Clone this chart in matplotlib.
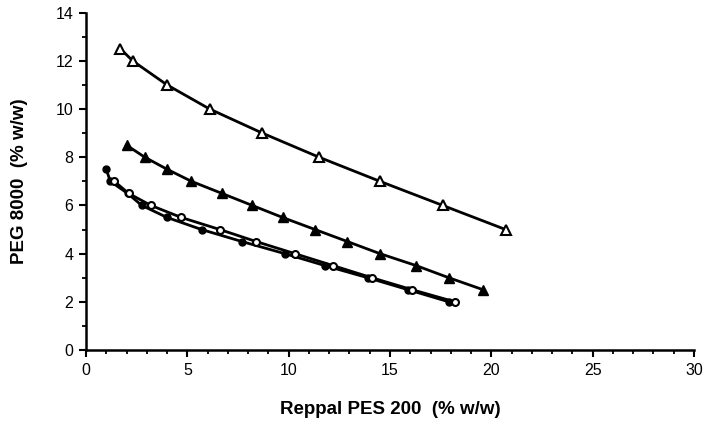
import matplotlib
matplotlib.use("Agg")
import matplotlib.pyplot as plt
from matplotlib.ticker import MultipleLocator

plt.rcParams['font.family'] = ['Liberation Sans', 'DejaVu Sans']

# open triangles (top curve)
x_open_tri = [1.7, 2.3, 4.0, 6.1, 8.7, 11.5, 14.5, 17.6, 20.7]
y_open_tri = [12.5, 12.0, 11.0, 10.0, 9.0, 8.0, 7.0, 6.0, 5.0]

# filled triangles (middle curve)
x_fill_tri = [2.0, 2.9, 4.0, 5.2, 6.7, 8.2, 9.7, 11.3, 12.9, 14.5, 16.3, 17.9, 19.6]
y_fill_tri = [8.5, 8.0, 7.5, 7.0, 6.5, 6.0, 5.5, 5.0, 4.5, 4.0, 3.5, 3.0, 2.5]

# filled circles (lower-left curve)
x_fill_circ = [1.0, 1.2, 2.05, 2.75, 4.0, 5.7, 7.7, 9.8, 11.8, 13.9, 15.9, 17.9]
y_fill_circ = [7.5, 7.0, 6.5, 6.0, 5.5, 5.0, 4.5, 4.0, 3.5, 3.0, 2.5, 2.0]

# open circles (lower-right curve)
x_open_circ = [1.4, 2.1, 3.2, 4.7, 6.6, 8.4, 10.3, 12.2, 14.1, 16.1, 18.2]
y_open_circ = [7.0, 6.5, 6.0, 5.5, 5.0, 4.5, 4.0, 3.5, 3.0, 2.5, 2.0]

fig = plt.figure(figsize=(7.03, 4.24), dpi=100)
ax = fig.add_axes([0.1223, 0.1745, 0.8649, 0.7958])

lw = 2.0
ax.plot(x_open_tri, y_open_tri, color='black', lw=lw, marker='^', ms=7,
        mfc='white', mec='black', mew=1.5)
ax.plot(x_fill_tri, y_fill_tri, color='black', lw=lw, marker='^', ms=7,
        mfc='black', mec='black')
ax.plot(x_fill_circ, y_fill_circ, color='black', lw=lw, marker='o', ms=5,
        mfc='black', mec='black')
ax.plot(x_open_circ, y_open_circ, color='black', lw=lw, marker='o', ms=5,
        mfc='white', mec='black', mew=1.5)

ax.set_xlim(0, 30)
ax.set_ylim(0, 14)
ax.xaxis.set_major_locator(MultipleLocator(5))
ax.xaxis.set_minor_locator(MultipleLocator(1))
ax.yaxis.set_major_locator(MultipleLocator(2))
ax.yaxis.set_minor_locator(MultipleLocator(1))

for side in ['top', 'right']:
    ax.spines[side].set_visible(False)
for side in ['left', 'bottom']:
    ax.spines[side].set_linewidth(1.8)

ax.tick_params(which='major', direction='out', length=5, width=1.5,
               labelsize=11.5, pad=4)
ax.tick_params(which='minor', direction='out', length=3, width=1.3)

ax.set_xlabel('Reppal PES 200  (% w/w)', fontsize=13.5, fontweight='bold', labelpad=17)
ax.set_ylabel('PEG 8000  (% w/w)', fontsize=13.5, fontweight='bold', labelpad=20)

fig.savefig('out.png', dpi=100)
